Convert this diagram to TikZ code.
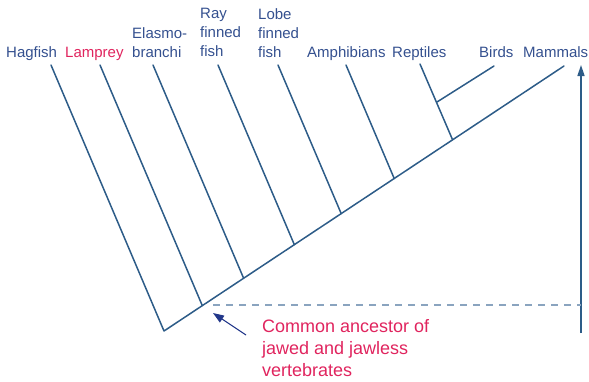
\documentclass[tikz,border=0pt]{standalone}
\usepackage{fontspec}
\setmainfont{Liberation Sans}
\usetikzlibrary{arrows.meta}
\definecolor{txtblue}{HTML}{34508F}
\definecolor{lineblue}{HTML}{2D5C88}
\definecolor{pinkred}{HTML}{E0245E}
\definecolor{dashblue}{HTML}{8AA4BF}
\definecolor{navy}{HTML}{22378A}
\tikzset{
  label/.style={font=\fontsize{15}{19}\selectfont, text=txtblue, inner sep=0pt, align=left},
  branch/.style={draw=lineblue, line width=1.5pt, line cap=round, line join=round},
  note/.style={font=\fontsize{18}{22}\selectfont, text=pinkred, inner sep=0pt, align=left}
}
\begin{document}
\begin{tikzpicture}[x=1pt,y=-1pt]
\useasboundingbox (0,0) rectangle (589,381);
% labels
\node[label, anchor=base west] (hag) at (6,57) {Hagfish};
\node[label, anchor=base west, text=pinkred] (lam) at (65,57) {Lamprey};
\node[label, anchor=north west] (ela) at (132,27.2) {Elasmo-\\branchi};
\node[label, anchor=north west] (ray) at (200,8.2) {Ray\\finned\\fish};
\node[label, anchor=north west] (lob) at (258,8.2) {Lobe\\finned\\fish};
\node[label, anchor=base west] (amp) at (307,57) {Amphibians};
\node[label, anchor=base west] (rep) at (392,57) {Reptiles};
\node[label, anchor=base west] (bir) at (479,57) {Birds};
\node[label, anchor=base west] (mam) at (523,57) {Mammals};
% coordinates
\coordinate (root) at (164,331);
\coordinate (ttop) at (564,66);
\coordinate (thag) at (51,65);
\coordinate (tlam) at (100,65);
\coordinate (tela) at (153,65);
\coordinate (tray) at (218,65);
\coordinate (tlob) at (278,65);
\coordinate (tamp) at (346,65);
\coordinate (trep) at (420,64);
\coordinate (tbir) at (494,66);
\coordinate (jlam) at (202.3,305.6);
\coordinate (jela) at (243.6,278.2);
\coordinate (jray) at (294.3,244.6);
\coordinate (jlob) at (341.2,213.6);
\coordinate (jamp) at (394.2,178.5);
\coordinate (jrep) at (452.5,139.6);
\coordinate (jbir) at (437,102);
% tree
\draw[branch] (thag) -- (root) -- (ttop);
\draw[branch] (tlam) -- (jlam);
\draw[branch] (tela) -- (jela);
\draw[branch] (tray) -- (jray);
\draw[branch] (tlob) -- (jlob);
\draw[branch] (tamp) -- (jamp);
\draw[branch] (trep) -- (jrep);
\draw[branch] (tbir) -- (jbir);
% time arrow
\coordinate (vbot) at (581,333);
\coordinate (vtop) at (581,65);
\draw[draw=lineblue, line width=1.6pt, -{Triangle[length=11pt,width=7pt]}] (vbot) -- (vtop);
% dashed
\coordinate (dl) at (213,305);
\coordinate (dr) at (581,305);
\draw[draw=dashblue, line width=1.8pt, dash pattern=on 6.7pt off 6.3pt] (dl) -- (dr);
% note
\node[note, anchor=north west] (note) at (262,319.1) {Common ancestor of\\jawed and jawless\\vertebrates};
\coordinate (atail) at (246,335);
\coordinate (ahead) at (213,313);
\draw[draw=navy, fill=navy, line width=1pt, -{Triangle[length=11pt,width=8pt]}] (atail) -- (ahead);
\end{tikzpicture}
\end{document}
